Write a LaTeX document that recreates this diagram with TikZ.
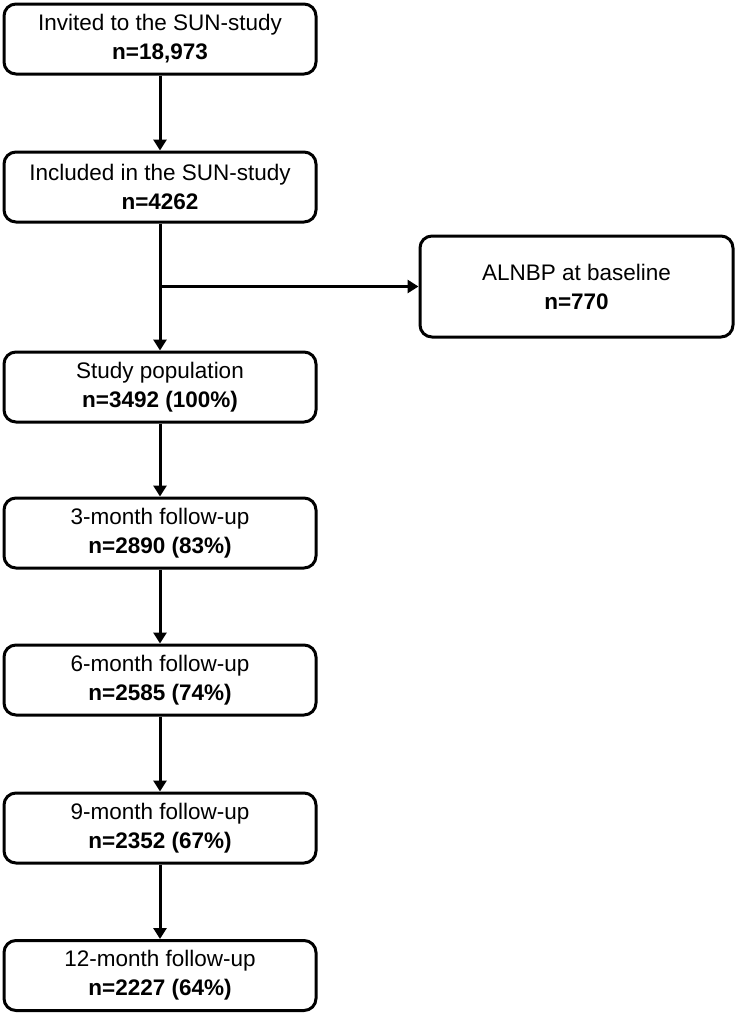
\documentclass[tikz,border=0pt]{standalone}
\usepackage{fontspec}
\setmainfont{Liberation Sans}
\usetikzlibrary{calc}
\usetikzlibrary{positioning}
\usetikzlibrary{arrows.meta}

\begin{document}
\begin{tikzpicture}[x=1pt, y=1pt,
		b/.style = {rectangle, draw=black, line width=3pt, rounded corners=12pt, fill=white,
			minimum width=312pt, minimum height=70pt, align=center,
			font=\fontsize{22.5pt}{29pt}\selectfont},
		r/.style = {-{Triangle[length=11pt, width=13pt]}, line width=3pt}
		]
		\useasboundingbox (0,0) rectangle (737,-1015);
		
		%Nodes
		\node[b]	(inv)	at	(160, -39)		{Invited to the SUN-study\\\textbf{n=18,973}};
		\node[b]	(inc)	at	(160, -187)		{Included in the SUN-study\\\textbf{n=4262}};
		\node[b, minimum width=313pt, minimum height=101pt]
					(aln)	at	(576.5, -286.5)	{ALNBP at baseline\\\textbf{n=770}};
		\node[b]	(pop)	at	(160, -387)		{Study population\\\textbf{n=3492} \textbf{(100\%)}};
		\node[b]	(m3)	at	(160, -533)		{3-month follow-up\\\textbf{n=2890} \textbf{(83\%)}};
		\node[b]	(m6)	at	(160, -680)		{6-month follow-up\\\textbf{n=2585} \textbf{(74\%)}};
		\node[b]	(m9)	at	(160, -828)		{9-month follow-up\\\textbf{n=2352} \textbf{(67\%)}};
		\node[b]	(m12)	at	(160, -975.5)	{12-month follow-up\\\textbf{n=2227} \textbf{(64\%)}};
		\coordinate	(split)	at	(inc.south |- aln.west);
		
		%Lines
		\draw[r]	(inv.south)	to	(inc.north);
		\draw[r]	(inc.south)	to	(pop.north);
		\draw[r]	(split)		to	(aln.west);
		\draw[r]	(pop.south)	to	(m3.north);
		\draw[r]	(m3.south)	to	(m6.north);
		\draw[r]	(m6.south)	to	(m9.north);
		\draw[r]	(m9.south)	to	(m12.north);
	\end{tikzpicture}
\end{document}
